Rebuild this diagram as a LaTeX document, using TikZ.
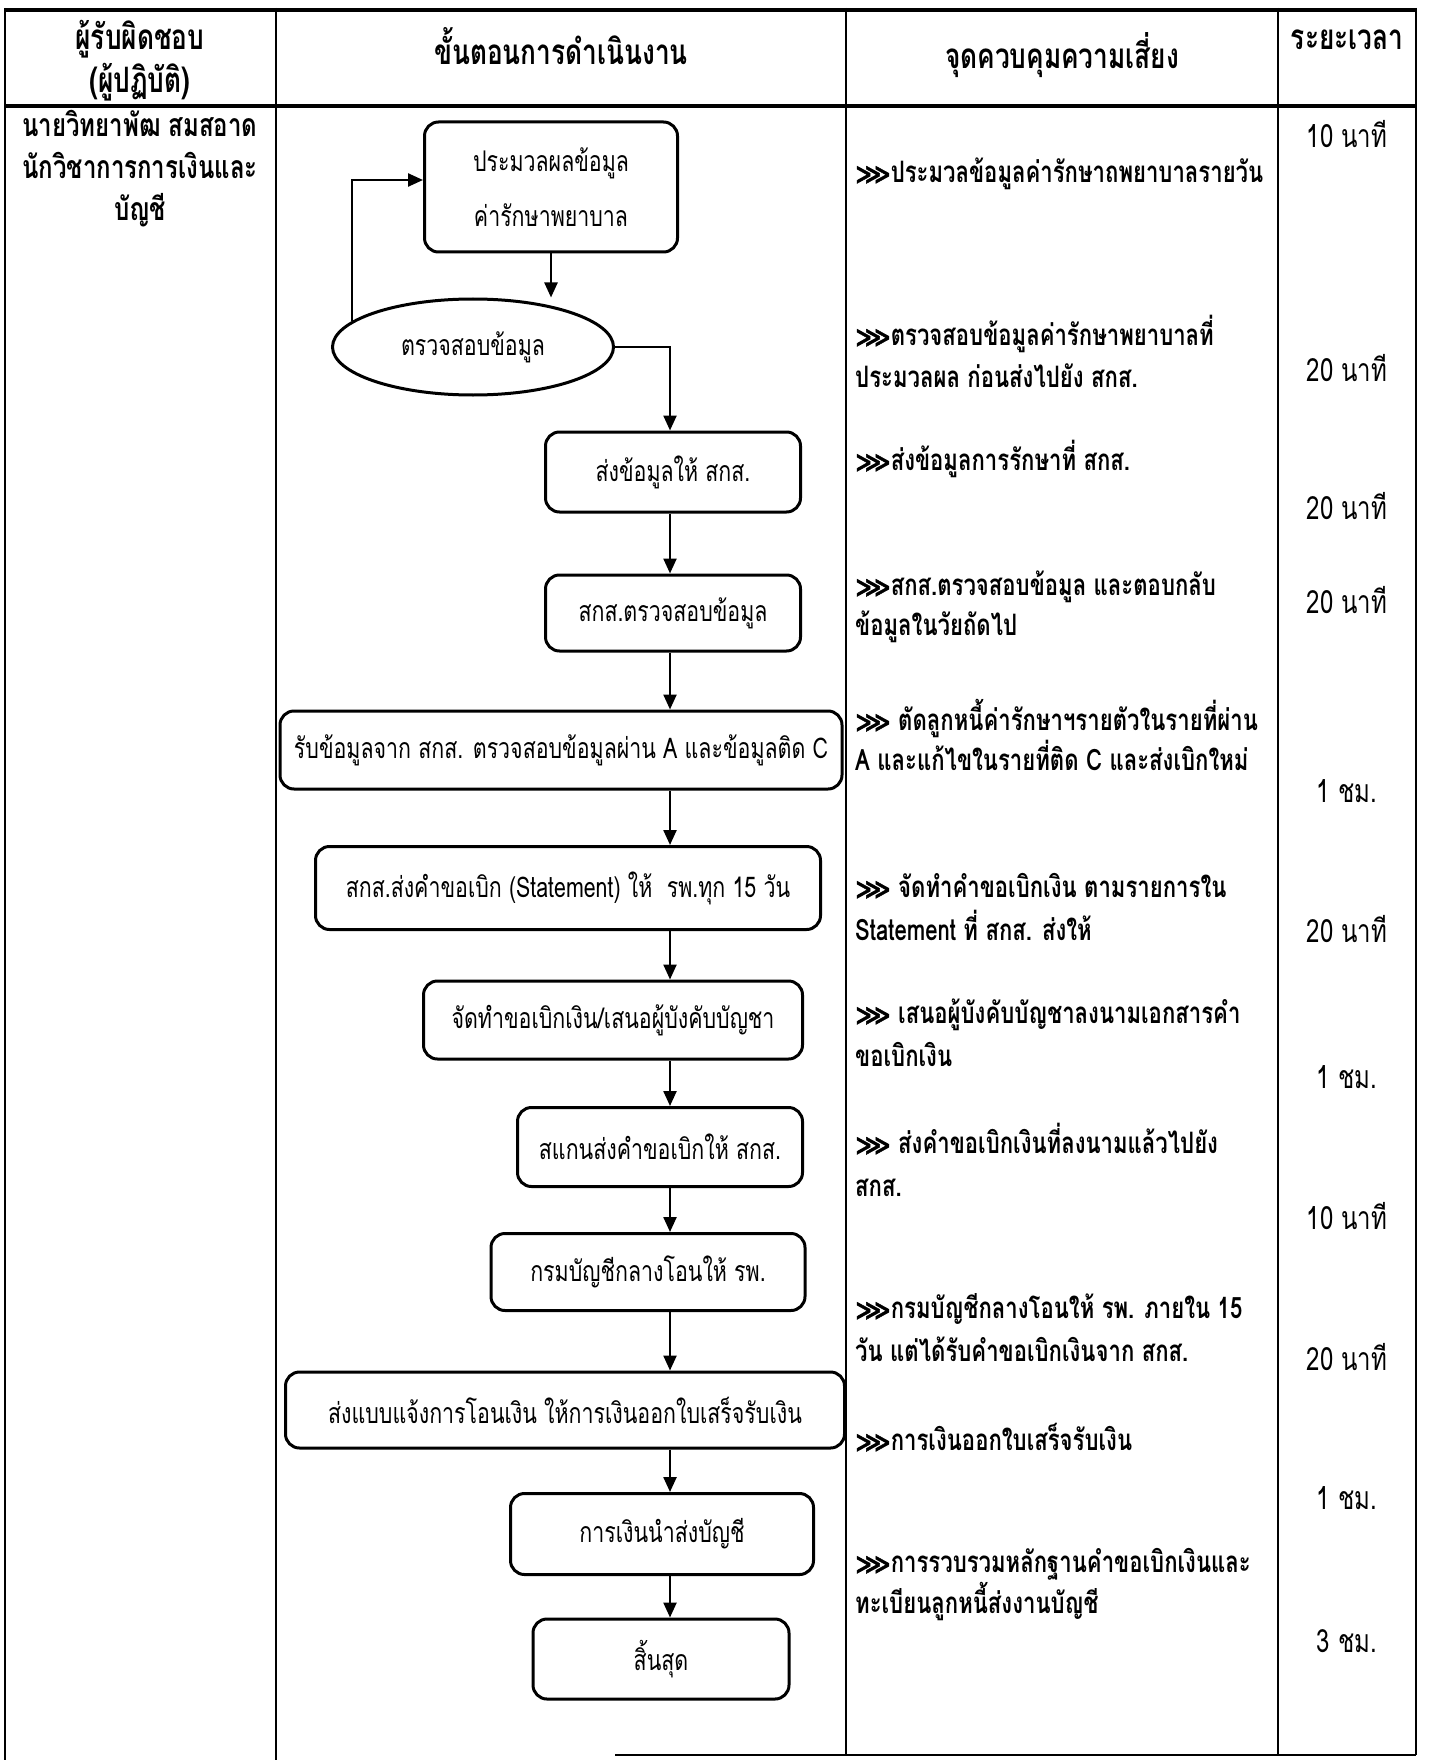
\documentclass[tikz,border=0pt]{standalone}
\usepackage{fontspec}
\setmainfont{Loma}[Script=Thai,FakeStretch=0.75]
\newfontfamily\symf{DejaVu Sans}[FakeBold=1.6]
\usetikzlibrary{shapes.geometric,arrows.meta,calc}
\newcommand\fbx{\fontsize{28.5}{55}\selectfont}
\newcommand\fhd{\fontsize{35}{40}\selectfont\bfseries}
\newcommand\fcl{\fontsize{32}{40}\selectfont\bfseries}
\newcommand\fct{\fontsize{29.5}{40}\selectfont\bfseries}
\newcommand\ftm{\fontsize{32}{40}\selectfont}
\newcommand\chev{{\symf\fontsize{25}{25}\selectfont ⋙}}
\begin{document}
\begin{tikzpicture}[x=1pt,y=-1pt,
  box/.style={draw,line width=3pt,rounded corners=14pt,align=center,font=\fbx,inner sep=0pt},
  oval/.style={draw,ellipse,line width=3pt,font=\fbx,inner sep=0pt},
  arr/.style={line width=2.4pt,-{Triangle[length=15pt,width=13pt]}},
  tline/.style={line width=2.6pt},
  thick line/.style={line width=4pt},
  hd/.style={font=\fhd,anchor=mid,inner sep=0pt},
  cl/.style={font=\fcl,anchor=mid,inner sep=0pt},
  ct/.style={font=\fct,anchor=mid west,inner sep=0pt},
  tm/.style={font=\ftm,anchor=mid,inner sep=0pt}]
\useasboundingbox[fill=white] (0,0) rectangle (1435,1760);

% table
\draw[thick line] (5,10) -- (1416,10);
\draw[thick line] (5,106) -- (1416,106);
\draw[tline] (5,8) -- (5,1760);
\draw[tline] (276,8) -- (276,1760);
\draw[tline] (846,8) -- (846,1755);
\draw[tline] (1278,8) -- (1278,1755);
\draw[tline] (1416,8) -- (1416,1755);
\draw[tline] (615,1755) -- (1416,1755);

% header
\node[hd] (h1a) at (140,47) {ผู้รับผิดชอบ};
\node[hd] (h1b) at (140,90) {(ผู้ปฏิบัติ)};
\node[hd] (h2) at (561,62) {ขั้นตอนการดำเนินงาน};
\node[hd] (h3) at (1062,66) {จุดควบคุมความเสี่ยง};
\node[hd] (h4) at (1347,47) {ระยะเวลา};

% responsible
\node[cl] (r1) at (140,134) {นายวิทยาพัฒ สมสอาด};
\node[cl] (r2) at (140,176) {นักวิชาการการเงินและ};
\node[cl] (r3) at (140,218) {บัญชี};

% flow
\coordinate (spine) at (670,0);
\node[box,minimum width=253,minimum height=130] (b1) at (551,187) {ประมวลผลข้อมูล\\ค่ารักษาพยาบาล};
\node[oval,minimum width=281,minimum height=96] (e) at (473,347) {ตรวจสอบข้อมูล};
\node[box,minimum width=255,minimum height=80] (b3) at (673,472) {ส่งข้อมูลให้ สกส.};
\node[box,minimum width=255,minimum height=76] (b4) at (673,613) {สกส.ตรวจสอบข้อมูล};
\node[box,minimum width=562,minimum height=78] (b5) at (561,750) {รับข้อมูลจาก สกส. ตรวจสอบข้อมูลผ่าน A และข้อมูลติด C};
\node[box,minimum width=505,minimum height=83] (b6) at (568,888) {สกส.ส่งคำขอเบิก (Statement) ให้ \ รพ.ทุก 15 วัน};
\node[box,minimum width=379,minimum height=78] (b7) at (613,1020) {จัดทำขอเบิกเงิน/เสนอผู้บังคับบัญชา};
\node[box,minimum width=285,minimum height=79] (b8) at (660,1147) {สแกนส่งคำขอเบิกให้ สกส.};
\node[box,minimum width=314,minimum height=77] (b9) at (648,1272) {กรมบัญชีกลางโอนให้ รพ.};
\node[box,minimum width=559,minimum height=76] (b10) at (565,1410) {ส่งแบบแจ้งการโอนเงิน ให้การเงินออกใบเสร็จรับเงิน};
\node[box,minimum width=303,minimum height=81] (b11) at (662,1534) {การเงินนำส่งบัญชี};
\node[box,minimum width=256,minimum height=80] (b12) at (661,1659) {สิ้นสุด};

\draw[arr] (b1.south) -- (b1.south |- e.north);
\draw[arr] (e.168.5) |- ($(b1.west)+(0,-7)$);
\draw[arr] (e.east) -| (b3.north -| spine);
\foreach \a/\b in {b3/b4,b4/b5,b5/b6,b6/b7,b7/b8,b8/b9,b9/b10,b10/b11,b11/b12}
  \draw[arr] (\a.south -| spine) -- (\b.north -| spine);

% control points
\node[ct] (c1) at (855,180) {\chev ประมวลข้อมูลค่ารักษาถพยาบาลรายวัน};
\node[ct] (c2a) at (855,343) {\chev ตรวจสอบข้อมูลค่ารักษาพยาบาลที่};
\node[ct] (c2b) at (855,385) {ประมวลผล ก่อนส่งไปยัง สกส.};
\node[ct] (c3) at (855,468) {\chev ส่งข้อมูลการรักษาที่ สกส.};
\node[ct] (c4a) at (855,593) {\chev สกส.ตรวจสอบข้อมูล และตอบกลับ};
\node[ct] (c4b) at (855,633) {ข้อมูลในวัยถัดไป};
\node[ct] (c5a) at (855,728) {\chev\ ตัดลูกหนี้ค่ารักษาฯรายตัวในรายที่ผ่าน};
\node[ct] (c5b) at (855,768) {A และแก้ไขในรายที่ติด C และส่งเบิกใหม่};
\node[ct] (c6a) at (855,895) {\chev\ จัดทำคำขอเบิกเงิน ตามรายการใน};
\node[ct] (c6b) at (855,938) {Statement ที่ สกส. ส่งให้};
\node[ct] (c7a) at (855,1021) {\chev\ เสนอผู้บังคับบัญชาลงนามเอกสารคำ};
\node[ct] (c7b) at (855,1064) {ขอเบิกเงิน};
\node[ct] (c8a) at (855,1151) {\chev\ ส่งคำขอเบิกเงินที่ลงนามแล้วไปยัง};
\node[ct] (c8b) at (855,1194) {สกส.};
\node[ct] (c9a) at (855,1316) {\chev กรมบัญชีกลางโอนให้ รพ. ภายใน 15};
\node[ct] (c9b) at (855,1359) {วัน แต่ได้รับคำขอเบิกเงินจาก สกส.};
\node[ct] (c10) at (855,1448) {\chev การเงินออกใบเสร็จรับเงิน};
\node[ct] (c11a) at (855,1570) {\chev การรวบรวมหลักฐานคำขอเบิกเงินและ};
\node[ct] (c11b) at (855,1611) {ทะเบียนลูกหนี้ส่งงานบัญชี};

% durations
\node[tm] (t1) at (1347,145) {10 นาที};
\node[tm] (t2) at (1347,379) {20 นาที};
\node[tm] (t3) at (1347,517) {20 นาที};
\node[tm] (t4) at (1347,611) {20 นาที};
\node[tm] (t5) at (1347,800) {1 ชม.};
\node[tm] (t6) at (1347,940) {20 นาที};
\node[tm] (t7) at (1347,1086) {1 ชม.};
\node[tm] (t8) at (1347,1227) {10 นาที};
\node[tm] (t9) at (1347,1368) {20 นาที};
\node[tm] (t10) at (1347,1507) {1 ชม.};
\node[tm] (t11) at (1347,1650) {3 ชม.};
\end{tikzpicture}
\end{document}
